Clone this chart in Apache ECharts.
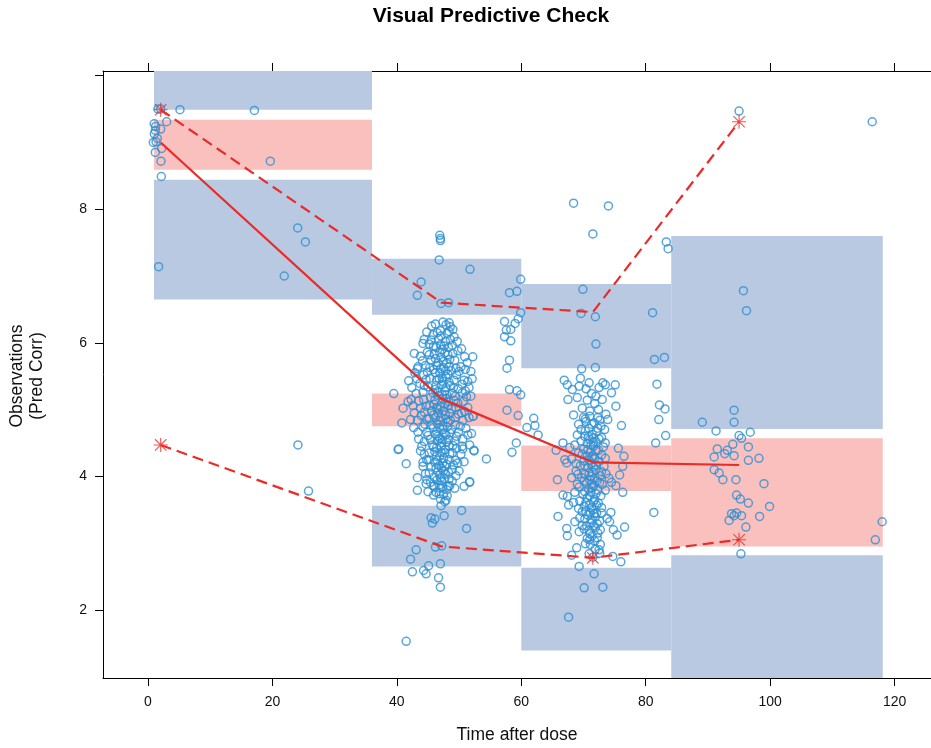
<!DOCTYPE html>
<html>
<head>
<meta charset="utf-8">
<script src="https://cdn.jsdelivr.net/npm/echarts@6/dist/echarts.min.js"></script>
<style>
html, body { margin: 0; padding: 0; background: #fff; }
#chart { width: 931px; height: 748px; }
</style>
</head>
<body>
<div id="chart"></div>
<script>
// ---- Bin edges (time after dose) ----
const binLeft  = [0.96, 36.0, 60.0, 84.1];
const binRight = [36.0, 60.0, 84.1, 118.1];

// ---- Simulated prediction-interval bands per bin ----
const loBandLow  = [6.65, 2.65, 1.39, 0.50];
const loBandHigh = [8.44, 3.56, 2.63, 2.82];
const medBandLow  = [8.59, 4.75, 3.78, 2.95];
const medBandHigh = [9.34, 5.24, 4.46, 4.57];
const hiBandLow  = [9.49, 6.42, 5.62, 4.71];
const hiBandHigh = [10.6, 7.26, 6.88, 7.60];

// ---- Observed percentiles per bin ----
const binTime   = [2.04, 47.2, 71.5, 95.0];
const obsMedian = [9.00, 5.16, 4.21, 4.17];
const obsUpper  = [9.49, 6.60, 6.46, 9.31];
const obsLower  = [4.47, 2.95, 2.78, 3.05];
// observed percentile lies outside its simulated band
const upperOutside = [true, false, false, true];
const lowerOutside = [true, false, true, true];

// ---- Axis ticks ----
const xTicks = [0, 20, 40, 60, 80, 100, 120];
const yLabels = [2, 4, 6, 8];
const yTicks = [2, 4, 6, 8, 10];

// ---- Prediction-corrected observations [time, value] ----
const obsBin1 = [
  [2.04,9.50],[5.14,9.49],[17.1,9.48],[3.0,9.31],[1.0,9.28],[1.23,9.24],[2.04,9.20],
  [1.18,9.18],[1.02,9.13],[1.5,9.06],[0.86,9.00],[1.29,9.01],[2.2,8.91],[1.18,8.85],
  [2.09,8.72],[2.14,8.49],[1.71,7.14],[19.66,8.72],[24.06,7.72],[25.3,7.51],[21.9,7.00],
  [24.1,4.47],[25.8,3.78],[1.6,9.50]
];

const obsBin2Spread = [
  [46.9,7.61],[47.0,7.56],[47.0,7.53],[46.8,7.24],[51.75,7.10],[43.9,6.91],[43.3,6.71],
  [47.1,6.59],[48.3,6.60],[59.9,6.95],[58.1,6.75],[59.3,6.77],[59.9,6.45],[59.5,6.36],
  [59.0,6.29],[57.3,6.32],[57.6,6.19],[58.3,6.20],[57.3,6.09],[58.3,6.03],[58.1,5.74],
  [57.7,5.62],[58.1,5.30],[59.3,5.28],[59.9,5.22],[57.7,4.99],[59.5,4.91],[60.9,4.73],
  [39.5,5.24],[52.2,5.79],[51.9,5.57],[51.4,5.42],[52.1,5.46],[51.2,5.19],[51.9,5.20],
  [52.2,4.90],[50.4,4.95],[42.8,5.84],[43.3,5.61],[41.9,5.43],[42.3,5.15],[41.8,5.12],
  [41.0,5.02],[40.8,4.80],[42.2,4.85],[40.2,4.40],[41.5,4.19],[44.4,6.05],[52.0,4.64],
  [52.4,4.39],[50.5,4.45],[54.4,4.26],[51.7,3.92],[49.7,6.02],[48.4,6.30],[40.3,4.41],
  [43.3,3.98],[43.3,3.79],[44.7,3.89],[45.9,3.85],[45.9,3.72],[47.0,3.82],[48.3,3.85],
  [48.5,3.86],[50.8,3.85],[51.7,3.91],[47.9,3.64],[47.1,3.56],[45.5,3.38],[46.1,3.36],
  [45.7,3.30],[47.6,3.41],[50.4,3.49],[51.2,3.22],[47.2,2.96],[46.2,2.94],[43.1,2.90],
  [42.2,2.76],[45.1,2.66],[44.3,2.59],[44.7,2.54],[42.5,2.57],[47.0,2.69],[46.7,2.48],
  [47.0,2.34],[41.5,1.53],[52.4,4.38],[50.6,4.41],[51.7,4.47],[49.8,4.20],[44.2,4.21],
  [59.2,4.50],[58.5,4.36],[52.3,4.90]
];

const obsBin2Core = [
  [46.2,6.28],[47.4,6.31],[48.6,6.24],[47.0,6.18],[45.8,6.12],[48.1,6.14],[49.2,6.09],
  [46.7,6.06],[47.8,6.02],[45.2,5.98],[48.9,5.96],[46.3,5.93],[47.3,5.90],[49.8,5.88],
  [44.9,5.86],[46.0,5.83],[48.2,5.82],[47.1,5.78],[45.5,5.74],[49.3,5.74],[46.6,5.70],
  [48.0,5.69],[44.6,5.66],[47.5,5.63],[50.3,5.64],[45.9,5.60],[48.7,5.58],[46.9,5.55],
  [44.3,5.52],[49.6,5.52],[47.9,5.49],[45.3,5.47],[46.4,5.44],[50.8,5.44],[48.4,5.41],
  [43.7,5.39],[47.2,5.37],[45.0,5.34],[49.1,5.33],[46.1,5.30],[47.7,5.28],[44.2,5.26],
  [48.9,5.24],[50.5,5.25],[46.7,5.21],[45.4,5.18],[47.4,5.16],[43.5,5.13],[48.3,5.12],
  [49.8,5.10],[46.0,5.08],[44.7,5.05],[47.0,5.04],[48.8,5.01],[45.6,4.98],[50.9,4.97],
  [46.6,4.95],[47.8,4.92],[43.9,4.91],[49.4,4.88],[45.2,4.86],[46.9,4.83],[48.2,4.81],
  [44.5,4.78],[47.4,4.76],[50.2,4.75],[45.9,4.73],[48.8,4.70],[46.4,4.67],[43.4,4.66],
  [47.6,4.64],[45.0,4.61],[49.6,4.60],[46.9,4.57],[48.3,4.55],[44.4,4.52],[47.2,4.50],
  [45.7,4.47],[49.0,4.46],[46.4,4.43],[47.8,4.40],[43.8,4.38],[45.2,4.35],[48.5,4.34],
  [46.9,4.31],[47.5,4.27],[44.8,4.25],[49.4,4.24],[46.1,4.21],[48.0,4.18],[45.5,4.14],
  [47.2,4.12],[48.9,4.10],[46.6,4.07],[44.6,4.04],[47.8,4.03],[46.0,3.99],[48.4,3.96],
  [47.2,3.93],[45.4,3.91],[46.8,3.87],[48.0,3.80],[46.3,3.76],[47.5,3.73],[47.0,3.66],
  [47.1,6.10],[47.6,5.95],[46.9,5.86],[47.5,5.72],[47.0,5.61],[47.8,5.58],[46.8,5.46],
  [47.4,5.42],[47.9,5.33],[46.6,5.27],[47.3,5.22],[47.7,5.09],[46.6,5.01],[47.5,4.98],
  [47.1,4.88],[47.9,4.86],[46.5,4.79],[47.4,4.70],[47.9,4.62],[46.6,4.60],[47.3,4.55],
  [47.1,4.45],[47.7,4.35],[46.4,4.30],[47.4,4.20],[46.8,4.16],[47.5,4.08],[47.0,3.98],
  [45.6,6.25],[47.9,6.27],[49.0,6.20],[44.8,6.16],[46.5,6.15],[48.4,6.17],[45.5,6.04],
  [48.6,6.05],[44.2,5.99],[45.9,5.95],[47.0,5.97],[48.3,5.93],[50.4,5.91],[43.8,5.80],
  [45.2,5.82],[47.7,5.85],[49.0,5.84],[50.9,5.79],[44.1,5.73],[46.2,5.76],[48.5,5.75],
  [51.3,5.70],[43.4,5.64],[45.3,5.63],[46.4,5.66],[48.4,5.64],[49.5,5.62],[51.0,5.60],
  [42.9,5.55],[44.9,5.56],[46.2,5.55],[48.2,5.53],[50.0,5.57],[43.2,5.46],[44.7,5.45],
  [47.3,5.47],[49.2,5.44],[50.5,5.38],[42.4,5.33],[44.4,5.36],[46.3,5.36],[48.6,5.36],
  [49.9,5.31],[51.6,5.33],[43.1,5.24],[45.8,5.25],[48.0,5.22],[49.4,5.20],[51.0,5.28],
  [42.6,5.06],[44.3,5.15],[46.1,5.14],[47.9,5.16],[49.2,5.14],[50.7,5.12],[43.8,5.02],
  [45.3,5.06],[46.4,5.03],[48.2,5.06],[49.5,5.03],[51.4,5.03],[42.8,4.95],[44.4,4.96],
  [45.9,4.92],[48.5,4.94],[49.9,4.93],[43.3,4.84],[44.8,4.86],[46.2,4.88],[48.6,4.84],
  [50.6,4.84],[51.6,4.88],[42.7,4.73],[44.2,4.74],[45.5,4.77],[46.9,4.73],[48.1,4.74],
  [49.4,4.77],[51.1,4.72],[44.8,4.66],[46.2,4.63],[48.5,4.65],[49.9,4.66],[51.4,4.62],
  [43.5,4.56],[45.4,4.55],[46.5,4.53],[48.0,4.51],[49.3,4.53],[50.6,4.56],[44.0,4.45],
  [45.9,4.44],[48.4,4.46],[49.6,4.42],[44.4,4.33],[46.1,4.37],[47.1,4.36],[48.9,4.35],
  [50.3,4.33],[45.1,4.25],[46.5,4.24],[48.4,4.25],[50.8,4.22],[44.2,4.15],[46.3,4.13],
  [47.7,4.15],[49.1,4.17],[50.0,4.08],[45.2,4.05],[46.9,4.02],[48.3,4.06],[49.5,4.01],
  [44.8,3.95],[46.4,3.94],[47.6,3.97],[48.9,3.93],[46.0,3.86],[47.4,3.84],[49.3,3.82],
  [45.0,3.77],[46.8,3.74],[48.1,3.71],[47.7,3.62]
];

const obsBin3Spread = [
  [68.4,8.09],[74.0,8.05],[71.5,7.63],[69.9,6.80],[69.6,6.44],[71.9,6.39],[72.0,5.98],
  [69.7,5.61],[71.9,5.63],[66.9,5.44],[67.4,5.37],[69.5,5.47],[73.5,5.37],[75.1,5.37],
  [75.2,5.05],[62.0,4.87],[62.2,4.76],[76.1,4.76],[62.7,4.62],[66.7,4.50],[65.6,4.39],
  [67.0,4.25],[65.8,3.95],[75.6,4.42],[76.5,4.30],[76.3,4.15],[75.8,4.02],[75.2,3.86],
  [76.3,3.76],[74.1,3.97],[74.5,3.91],[66.7,3.72],[67.4,3.70],[67.6,3.57],[68.4,3.61],
  [65.9,3.40],[67.3,3.22],[67.4,3.11],[68.6,3.32],[69.3,3.17],[69.8,3.26],[74.4,3.46],
  [73.8,3.37],[74.2,3.32],[74.8,3.20],[75.4,3.12],[76.6,3.24],[68.9,2.93],[69.3,2.65],
  [68.1,2.82],[72.5,2.90],[72.6,2.85],[76.0,2.72],[74.7,2.80],[71.7,2.54],[70.1,2.33],
  [73.1,2.34],[67.6,1.89],[71.5,2.79],[70.9,2.84],
  [81.1,6.45],[81.4,5.75],[81.8,5.38],[82.2,5.07],[81.6,4.50],[81.3,3.46],[83.3,7.51],
  [83.6,7.41],[83.0,5.78],[83.1,5.01],[82.1,4.85],[83.2,4.61]
];

const obsBin3Core = [
  [71.0,4.90],[72.3,4.88],[70.4,4.82],[71.7,4.80],[72.8,4.75],[70.9,4.72],[69.6,4.70],
  [72.1,4.67],[71.4,4.63],[70.2,4.60],[72.9,4.58],[71.0,4.55],[72.0,4.52],[70.6,4.49],
  [68.6,4.47],[71.6,4.45],[73.2,4.44],[70.0,4.41],[72.4,4.39],[71.1,4.36],[69.2,4.35],
  [72.9,4.32],[70.6,4.30],[71.8,4.27],[68.1,4.26],[70.1,4.23],[72.5,4.22],[71.2,4.19],
  [69.5,4.16],[73.3,4.15],[70.7,4.13],[72.0,4.10],[68.8,4.08],[71.4,4.06],[70.2,4.03],
  [72.7,4.01],[69.7,3.98],[71.0,3.95],[72.2,3.93],[70.5,3.90],[73.0,3.88],[71.6,3.86],
  [69.3,3.84],[70.8,3.81],[72.3,3.79],[71.2,3.76],[69.9,3.73],[72.8,3.71],[70.6,3.68],
  [71.8,3.65],[69.4,3.63],[72.4,3.60],[71.0,3.58],[70.1,3.55],[72.9,3.53],[71.5,3.50],
  [69.8,3.47],[72.1,3.45],[70.7,3.42],[71.9,3.39],[70.2,3.36],[72.6,3.33],[71.3,3.30],
  [70.5,3.26],[71.9,3.23],[70.9,3.19],[72.3,3.15],[71.4,3.11],[70.6,3.07],[71.8,3.03],
  [71.1,2.98],
  [71.3,4.78],[71.6,4.58],[71.2,4.47],[71.5,4.31],[70.9,4.24],[71.6,4.14],[71.2,4.00],
  [71.8,3.97],[71.4,3.83],[71.0,3.71],[71.6,3.62],[71.3,3.53],[71.7,3.44],[71.2,3.35],
  [71.6,3.26],[71.0,3.14],
  [68.2,5.30],[70.4,5.31],[71.3,5.24],[72.5,5.33],[69.0,5.18],[70.6,5.14],[71.8,5.09],
  [73.0,5.15],[69.8,5.02],[71.0,4.98],[72.4,5.00],[68.4,4.92],[73.6,4.93],[70.0,4.88],
  [70.3,4.86],[72.6,4.84],[69.2,4.78],[72.3,4.72],[70.3,4.68],[73.4,4.70],[69.0,4.62],
  [70.8,4.60],[72.5,4.56],[69.6,4.53],[71.6,4.51],[73.5,4.50],[67.8,4.43],[70.7,4.40],
  [72.0,4.38],[69.8,4.33],[71.4,4.28],[73.5,4.27],[67.3,4.20],[68.8,4.19],[72.0,4.17],
  [70.2,4.16],[72.9,4.07],[69.1,4.03],[70.9,4.05],[73.6,4.04],[68.1,3.98],[70.1,3.93],
  [72.6,3.91],[71.3,3.89],[69.0,3.88],[73.5,3.79],[70.2,3.77],[72.0,3.74],[68.6,3.76],
  [70.4,3.61],[72.1,3.57],[69.2,3.52],[72.9,3.45],[70.4,3.47],[71.1,3.45],[69.4,3.38],
  [72.2,3.29],[70.1,3.21],[72.7,3.20],[71.0,3.05],[72.2,3.08],[70.3,2.99],[72.7,2.98],
  [71.9,2.91],[67.5,5.15],[69.3,5.35],[70.9,5.40],[72.0,5.20],[73.1,5.40],[74.5,5.25],
  [73.9,4.85]
];

const obsBin4 = [
  [95.0,9.47],[116.4,9.31],[95.7,6.78],[96.2,6.48],[94.2,4.99],[94.2,4.81],[89.1,4.81],
  [91.3,4.68],[96.8,4.66],[95.0,4.61],[95.4,4.57],[94.0,4.48],[96.5,4.44],[91.5,4.41],
  [93.1,4.39],[92.7,4.34],[91.0,4.29],[94.2,4.31],[98.2,4.27],[96.5,4.24],[91.0,4.10],
  [91.8,4.05],[92.4,3.95],[94.5,3.95],[99.0,3.89],[94.6,3.72],[95.2,3.66],[96.5,3.60],
  [99.9,3.55],[93.8,3.44],[94.6,3.45],[94.2,3.41],[95.4,3.41],[93.4,3.34],[98.3,3.40],
  [96.1,3.24],[118.0,3.32],[116.9,3.05],[95.3,2.84]
];

// ---- Styling ----
const BLUE_BAND = '#B8C9E1';
const PINK_BAND = '#F9C0BE';
const RED = '#EC2A27';
const POINT = '#2E90D3';
const FONT = '"Liberation Sans", Arial, Helvetica, sans-serif';

// Band rectangles: [left, right, low, high, kind] (kind 1 = median band)
const bandRects = [];
for (let i = 0; i < binLeft.length; i++) {
  bandRects.push([binLeft[i], binRight[i], loBandLow[i], loBandHigh[i], 0]);
  bandRects.push([binLeft[i], binRight[i], medBandLow[i], medBandHigh[i], 1]);
  bandRects.push([binLeft[i], binRight[i], hiBandLow[i], hiBandHigh[i], 0]);
}

const observations = [].concat(obsBin1, obsBin2Spread, obsBin2Core, obsBin3Spread, obsBin3Core, obsBin4);
const pairs = (ys) => binTime.map((t, i) => [t, ys[i]]);
const starPoints = [];
binTime.forEach((t, i) => {
  if (upperOutside[i]) starPoints.push([t, obsUpper[i]]);
  if (lowerOutside[i]) starPoints.push([t, obsLower[i]]);
});

// eight-spoke asterisk drawn as filled bars
const ASTERISK = 'path://M0,9.2L20,9.2L20,10.8L0,10.8Z M9.2,0L10.8,0L10.8,20L9.2,20Z ' +
  'M2.4,1.3L18.7,17.6L17.6,18.7L1.3,2.4Z M17.6,1.3L18.7,2.4L2.4,18.7L1.3,17.6Z';

const X_MIN = -7.23, X_MAX = 125.85;
const Y_MIN = 0.98, Y_MAX = 10.07;

const chart = echarts.init(document.getElementById('chart'), null, { renderer: 'canvas' });

const axisLine = { show: true, onZero: false, lineStyle: { color: '#000', width: 1 } };

chart.setOption({
  animation: false,
  backgroundColor: '#fff',
  grid: { left: 103, top: 71, right: 0, bottom: 70, containLabel: false, outerBoundsMode: 'none' },
  xAxis: [
    {
      type: 'value', min: X_MIN, max: X_MAX, position: 'bottom',
      axisLine, splitLine: { show: false },
      axisTick: { show: true, inside: false, length: 8, customValues: xTicks, lineStyle: { color: '#000' } },
      axisLabel: { show: true, customValues: xTicks, margin: 17, fontSize: 14, color: '#111', fontFamily: FONT }
    },
    {
      type: 'value', min: X_MIN, max: X_MAX, position: 'top',
      axisLine, splitLine: { show: false },
      axisTick: { show: true, inside: false, length: 8, customValues: xTicks, lineStyle: { color: '#000' } },
      axisLabel: { show: false }
    }
  ],
  yAxis: [
    {
      type: 'value', min: Y_MIN, max: Y_MAX, position: 'left',
      axisLine, splitLine: { show: false },
      axisTick: { show: true, inside: false, length: 8, customValues: yTicks, lineStyle: { color: '#000' } },
      axisLabel: { show: true, customValues: yLabels, margin: 16, fontSize: 14, color: '#111', fontFamily: FONT }
    }
  ],
  graphic: [
    { type: 'text', x: 491, y: 16, silent: true,
      style: { text: 'Visual Predictive Check', font: 'bold 21px ' + FONT, fill: '#000', textAlign: 'center', textVerticalAlign: 'middle' } },
    { type: 'text', x: 517, y: 735, silent: true,
      style: { text: 'Time after dose', font: '17.5px ' + FONT, fill: '#111', textAlign: 'center', textVerticalAlign: 'middle' } },
    { type: 'text', x: 27, y: 376, rotation: Math.PI / 2, silent: true,
      style: { text: 'Observations\n(Pred Corr)', font: '17.5px ' + FONT, lineHeight: 20, fill: '#111', textAlign: 'center', textVerticalAlign: 'middle' } }
  ],
  series: [
    {
      type: 'custom', silent: true, z: 1,
      data: bandRects,
      encode: { x: [0, 1], y: [2, 3] },
      renderItem(params, api) {
        const p0 = api.coord([api.value(0), api.value(3)]);
        const p1 = api.coord([api.value(1), api.value(2)]);
        const cs = params.coordSys;
        const shape = echarts.graphic.clipRectByRect(
          { x: p0[0], y: p0[1], width: p1[0] - p0[0], height: p1[1] - p0[1] },
          { x: cs.x, y: cs.y, width: cs.width, height: cs.height }
        );
        return shape && { type: 'rect', shape, style: { fill: api.value(4) === 1 ? PINK_BAND : BLUE_BAND } };
      }
    },
    {
      type: 'scatter', silent: true, z: 2,
      data: observations,
      symbol: 'circle', symbolSize: 8,
      itemStyle: { color: 'rgba(0,0,0,0)', borderColor: POINT, borderWidth: 1.5 }
    },
    {
      type: 'line', silent: true, z: 3, data: pairs(obsMedian), symbol: 'none',
      lineStyle: { color: RED, width: 2.2, type: 'solid' }
    },
    {
      type: 'line', silent: true, z: 3, data: pairs(obsUpper), symbol: 'none',
      lineStyle: { color: RED, width: 2.2, type: [11, 6] }
    },
    {
      type: 'line', silent: true, z: 3, data: pairs(obsLower), symbol: 'none',
      lineStyle: { color: RED, width: 2.2, type: [11, 6] }
    },
    {
      type: 'scatter', silent: true, z: 4,
      data: starPoints, symbol: ASTERISK, symbolSize: 14,
      itemStyle: { color: RED }
    }
  ]
});
</script>
</body>
</html>
